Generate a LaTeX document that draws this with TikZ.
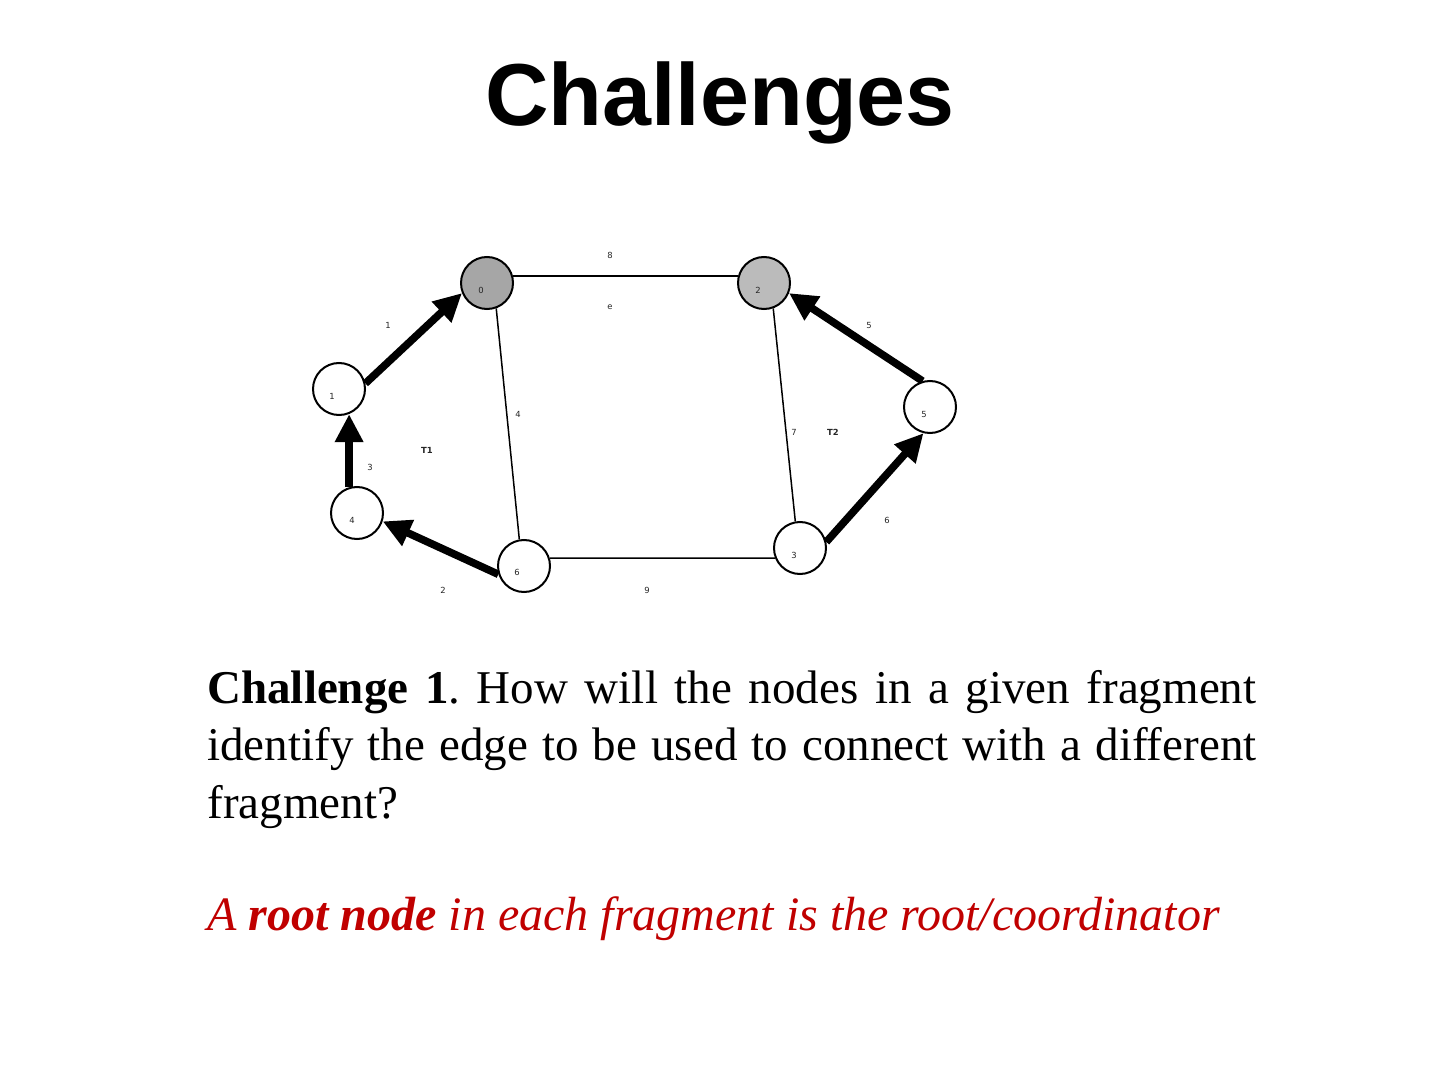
\documentclass[tikz,border=0pt]{standalone}
\usepackage{fontspec}
\setmainfont{Liberation Serif}
\newfontfamily\titlefont{Liberation Sans}
\newfontfamily\lblfont{DejaVu Sans}
\usetikzlibrary{arrows.meta}
\definecolor{darkred}{RGB}{192,0,0}
\definecolor{rootgrayA}{RGB}{166,166,166}
\definecolor{rootgrayB}{RGB}{187,187,187}
\begin{document}
\frenchspacing
\begin{tikzpicture}[x=0.5pt,y=-0.5pt,
 vtx/.style={circle,draw=black,line width=1pt,minimum size=26pt,inner sep=0pt,fill=white},
 lbl/.style={font=\lblfont\fontsize{4.2}{5}\selectfont,inner sep=0pt,text=black!85},
 tlbl/.style={font=\lblfont\bfseries\fontsize{4.2}{5}\selectfont,inner sep=0pt,text=black!85},
 edgeline/.style={line width=0.75pt},
 treearrow/.style={line width=3.8pt,-{Triangle[length=14pt,width=13.5pt]}},
]
\fill[white] (0,0) rectangle (1440,1080);
\useasboundingbox (0,0) rectangle (1440,1080);

% title
\node[anchor=base, inner sep=0pt, font=\titlefont\bfseries\fontsize{44}{50}\selectfont] (title) at (720,126) {Challenges};

% vertices
\node[vtx,fill=rootgrayA] (n0) at (487,283) {};
\node[vtx,fill=rootgrayB] (n2) at (764,283) {};
\node[vtx] (n1) at (339,389) {};
\node[vtx] (n5) at (930,407) {};
\node[vtx] (n4) at (357,513) {};
\node[vtx] (n6) at (524,566) {};
\node[vtx] (n3) at (800,548) {};

% vertex labels
\node[lbl] (l0) at (481,290) {0};
\node[lbl] (l2) at (758,290) {2};
\node[lbl] (l1) at (332,396) {1};
\node[lbl] (l5) at (924,414) {5};
\node[lbl] (l4) at (352,520) {4};
\node[lbl] (l6) at (517,572) {6};
\node[lbl] (l3) at (794,555) {3};

% plain edges
\draw[edgeline] (n0.15) -- (n2.165);
\draw[edgeline] (n0.-70) -- (n6.100);
\draw[edgeline] (n2.-70) -- (n3.100);
\draw[edgeline] (n6.17) -- (n3.202);

% tree arrows
\draw[treearrow] (n1.12) -- (n0.202);
\draw[treearrow] (n4.107) -- (n4.107 |- n1.-69);
\draw[treearrow] (n6.198) -- (n4.-18);
\draw[treearrow] (n5.106) -- (n2.-22);
\draw[treearrow] (n3.13) -- (n5.256);

% edge labels
\node[lbl] (w8) at (610,255) {8};
\node[lbl] (we) at (610,307) {e};
\node[lbl] (w1) at (388,325) {1};
\node[lbl] (w5) at (869,325) {5};
\node[lbl] (w4) at (518,414) {4};
\node[lbl] (w7) at (794,432) {7};
\node[tlbl] (t2) at (833,432) {T2};
\node[tlbl] (t1) at (427,450) {T1};
\node[lbl] (w3) at (370,467) {3};
\node[lbl] (w6) at (887,520) {6};
\node[lbl] (w2) at (443,590) {2};
\node[lbl] (w9) at (647,590) {9};

% body text
\node[anchor=north west, text width=524.5pt, inner sep=0pt, align=justify,
      font=\fontsize{23.5}{28.75}\selectfont] (body) at (207,670)
 {\textbf{Challenge 1}. How will the nodes in a given fragment identify the edge to be used to connect with a different fragment?};
\node[anchor=base west, inner sep=0pt, text=darkred,
      font=\fontsize{24}{28.75}\selectfont\itshape] (root) at (207,930)
 {A \textbf{root node} in each fragment is the root/coordinator};
\end{tikzpicture}
\end{document}
